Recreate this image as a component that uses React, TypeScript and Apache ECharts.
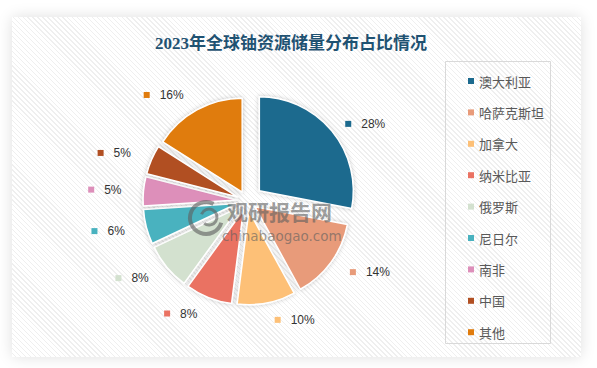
import React, { useEffect, useRef } from 'react';
import * as echarts from 'echarts';

const titleText = '2023年全球铀资源储量分布占比情况';
const categories = ['澳大利亚', '哈萨克斯坦', '加拿大', '纳米比亚', '俄罗斯', '尼日尔', '南非', '中国', '其他'];
const shares = [28, 14, 10, 8, 8, 6, 5, 5, 16];
const colors = ['#1c6a8e', '#e89b7a', '#fdc077', '#ea7262', '#d3e1cf', '#49b2bf', '#dd8fba', '#b14f22', '#e07b0c'];
const watermarkCn = '观研报告网';
const watermarkEn = 'chinabaogao.com';

const CENTER = [247, 201];
const RADIUS = 94;

const hidden = {
  itemStyle: { color: 'rgba(0,0,0,0)', borderWidth: 0, shadowBlur: 0, shadowColor: 'rgba(0,0,0,0)' },
  label: { show: false },
  labelLine: { show: false },
  tooltip: { show: false },
};

const mkLabel = (i: number) => ({
  show: true,
  position: 'outside',
  formatter: (p: any) => `{m|}{v|${p.value}%}`,
  rich: {
    m: { width: 6, height: 6, backgroundColor: colors[i] },
    v: {
      fontSize: 12,
      color: '#333333',
      fontFamily: '"Liberation Sans", Arial, sans-serif',
      padding: [0, 0, 0, 10],
    },
  },
});

const baseItemStyle = {
  borderColor: '#ffffff',
  borderWidth: 1.5,
  shadowBlur: 4,
  shadowColor: 'rgba(0,0,0,0.22)',
};

const wmColor = 'rgba(95,95,95,0.62)';

export default function App() {
  const ref = useRef<HTMLDivElement>(null);

  useEffect(() => {
    if (!ref.current) return;
    const chart = echarts.init(ref.current, null, { renderer: 'svg' });

    const restData = categories.map((name, i) => {
      if (i === 0) return { name: '__au', value: shares[0], ...hidden };
      return {
        name,
        value: shares[i],
        selected: true,
        itemStyle: { color: colors[i] },
        label: mkLabel(i),
      };
    });

    const auData = [
      {
        name: categories[0],
        value: shares[0],
        selected: true,
        itemStyle: { color: colors[0] },
        label: mkLabel(0),
      },
      {
        name: '__rest',
        value: shares.slice(1).reduce((a, b) => a + b, 0),
        ...hidden,
      },
    ];

    const common = {
      type: 'pie',
      center: CENTER,
      radius: RADIUS,
      startAngle: 90,
      clockwise: true,
      selectedMode: 'multiple',
      avoidLabelOverlap: false,
      itemStyle: baseItemStyle,
      select: { itemStyle: baseItemStyle },
      emphasis: { disabled: true },
      silent: true,
      z: 2,
    };

    chart.setOption({
      animation: false,
      backgroundColor: 'transparent',
      legend: {
        data: categories,
        orient: 'vertical',
        left: 463,
        top: 69,
        itemWidth: 6,
        itemHeight: 6,
        itemGap: 17.4,
        icon: 'rect',
        selectedMode: false,
        itemStyle: { borderWidth: 0, shadowBlur: 0 },
        textStyle: {
          fontSize: 13,
          color: '#595959',
          fontFamily: '"Noto Sans CJK SC", sans-serif',
          lineHeight: 14,
        },
      },
      graphic: [
        {
          type: 'text',
          x: 291,
          y: 43,
          style: {
            text: titleText,
            fill: '#1f5272',
            font: 'bold 17px "Liberation Serif", "Noto Sans CJK SC", serif',
            textAlign: 'center',
            textVerticalAlign: 'middle',
          },
        },
        {
          type: 'rect',
          shape: { x: 445.5, y: 61.5, width: 105, height: 282 },
          style: { fill: 'none', stroke: '#d9d9d9', lineWidth: 1 },
        },
        {
          type: 'arc',
          z: 50,
          silent: true,
          shape: { cx: 206, cy: 218, r: 16, startAngle: 0.3, endAngle: 5.2 },
          style: { stroke: wmColor, lineWidth: 4, fill: 'none' },
        },
        {
          type: 'arc',
          z: 50,
          silent: true,
          shape: { cx: 209, cy: 217, r: 8, startAngle: 3.5, endAngle: 8.5 },
          style: { stroke: wmColor, lineWidth: 3, fill: 'none' },
        },
        {
          type: 'text',
          z: 50,
          silent: true,
          x: 227,
          y: 211,
          style: {
            text: watermarkCn,
            fill: wmColor,
            font: 'bold 21px "Noto Sans CJK SC", sans-serif',
            textVerticalAlign: 'middle',
          },
        },
        {
          type: 'text',
          z: 50,
          silent: true,
          x: 222,
          y: 236,
          style: {
            text: watermarkEn,
            fill: wmColor,
            font: '13.5px "DejaVu Sans", sans-serif',
            textVerticalAlign: 'middle',
          },
        },
      ],
      series: [
        {
          ...common,
          name: 'rest',
          selectedOffset: 10,
          labelLine: { show: false, length: 17, length2: 0 },
          data: restData,
        },
        {
          ...common,
          name: 'au',
          selectedOffset: 16,
          labelLine: { show: false, length: 11, length2: 0 },
          data: auData,
        },
      ],
    });

    return () => chart.dispose();
  }, []);

  return (
    <div style={{ position: 'absolute', left: 0, top: 0, width: 597, height: 368, background: '#ffffff' }}>
      <div
        style={{
          position: 'absolute',
          left: 12,
          top: 17,
          width: 569,
          height: 340,
          boxShadow: '0 0 14px rgba(0,0,0,0.13)',
          background:
            'repeating-linear-gradient(45deg, #ffffff 0px, #ffffff 2.5px, #efefef 2.5px, #efefef 3.5px)',
        }}
      />
      <div ref={ref} style={{ position: 'absolute', left: 0, top: 0, width: 597, height: 368 }} />
    </div>
  );
}
